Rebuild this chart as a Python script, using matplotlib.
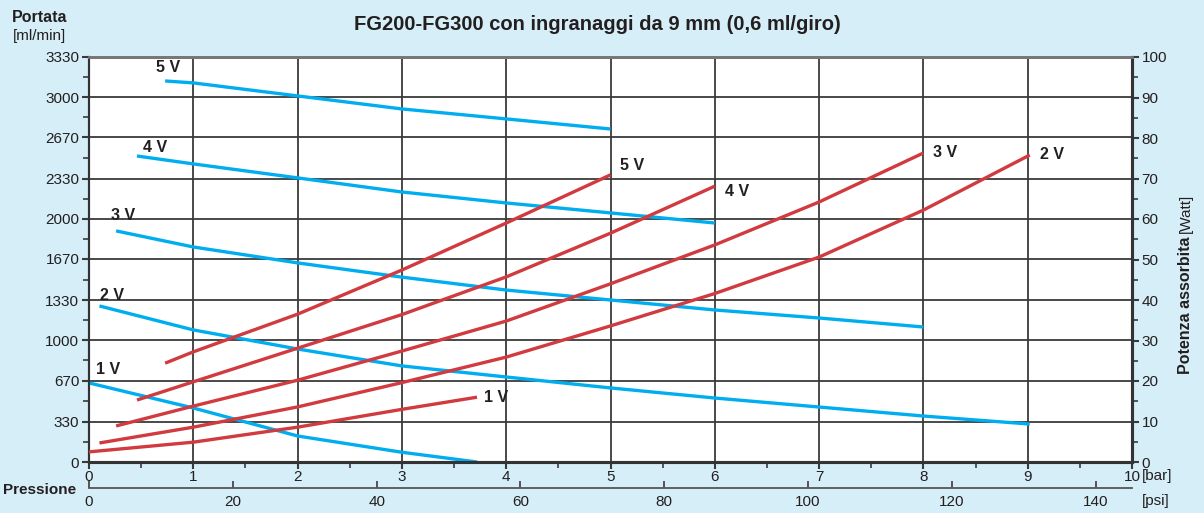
import matplotlib
matplotlib.use("Agg")
import matplotlib.pyplot as plt
from matplotlib.ticker import MultipleLocator, FixedLocator

# ---- data ----
flow_ticks = [0, 330, 670, 1000, 1330, 1670, 2000, 2330, 2670, 3000, 3330]
power_ticks = [0, 10, 20, 30, 40, 50, 60, 70, 80, 90, 100]
bar_ticks = [0, 1, 2, 3, 4, 5, 6, 7, 8, 9, 10]
psi_ticks = [0, 20, 40, 60, 80, 100, 120, 140]

# flow [ml/min] vs pressure [bar]
flow_p_5v = [0.73, 1, 2, 3, 4, 5]
flow_q_5v = [3133, 3117, 3010, 2903, 2821, 2738]
flow_p_4v = [0.46, 1, 2, 3, 4, 5, 6]
flow_q_4v = [2516, 2451, 2336, 2220, 2130, 2048, 1965]
flow_p_3v = [0.26, 1, 2, 3, 4, 5, 6, 7, 8]
flow_q_3v = [1900, 1768, 1637, 1520, 1414, 1332, 1250, 1184, 1110]
flow_p_2v = [0.1, 1, 2, 3, 4, 5, 6, 7, 8, 9.02]
flow_q_2v = [1283, 1086, 929, 790, 699, 609, 526, 452, 378, 312]
flow_p_1v = [0, 1, 2, 3, 3.72]
flow_q_1v = [650, 444, 214, 80, 0]

# absorbed power [W] vs pressure [bar]
pow_p_5v = [0.73, 1, 2, 3, 4, 5]
pow_w_5v = [24.4, 27.2, 36.5, 47.4, 59.0, 70.9]
pow_p_4v = [0.46, 1, 2, 3, 4, 5, 6]
pow_w_4v = [15.3, 19.8, 28.1, 36.4, 45.7, 56.5, 68.1]
pow_p_3v = [0.26, 1, 2, 3, 4, 5, 6, 7, 8]
pow_w_3v = [8.9, 13.8, 20.2, 27.4, 34.8, 44.0, 53.6, 64.2, 76.3]
pow_p_2v = [0.1, 1, 2, 3, 4, 5, 6, 7, 8, 9.02]
pow_w_2v = [4.7, 8.6, 13.6, 19.6, 25.9, 33.6, 41.6, 50.6, 62.2, 75.8]
pow_p_1v = [0, 1, 2, 3, 3.72]
pow_w_1v = [2.5, 4.9, 8.6, 13.0, 16.0]

flow_series = [("5 V", flow_p_5v, flow_q_5v), ("4 V", flow_p_4v, flow_q_4v),
               ("3 V", flow_p_3v, flow_q_3v), ("2 V", flow_p_2v, flow_q_2v),
               ("1 V", flow_p_1v, flow_q_1v)]
power_series = [("5 V", pow_p_5v, pow_w_5v), ("4 V", pow_p_4v, pow_w_4v),
                ("3 V", pow_p_3v, pow_w_3v), ("2 V", pow_p_2v, pow_w_2v),
                ("1 V", pow_p_1v, pow_w_1v)]

# ---- styling ----
BG = "#d6eef7"
BLUE = "#00aeef"
RED = "#d13a3e"
TXT = "#231f20"
COND = ["Liberation Sans Narrow", "Liberation Sans", "DejaVu Sans"]
REG = ["Liberation Sans", "DejaVu Sans"]

W, H = 1204, 513
fig = plt.figure(figsize=(W / 100, H / 100), dpi=100, facecolor=BG)
ax = fig.add_axes([89 / W, 1 - 462 / H, (1132 - 89) / W, (462 - 57) / H])
ax.set_facecolor("white")
ax2 = ax.twinx()

ax.set_xlim(0, 10)
ax.set_ylim(0, 3330)
ax2.set_ylim(0, 100)

ax.set_xticks(bar_ticks)
ax.xaxis.set_minor_locator(MultipleLocator(0.5))
ax.set_yticks(flow_ticks)
ax.yaxis.set_minor_locator(FixedLocator([(a + b) / 2 for a, b in zip(flow_ticks[:-1], flow_ticks[1:])]))
ax2.set_yticks(power_ticks)
ax2.yaxis.set_minor_locator(MultipleLocator(5))

ax.grid(True, which="major", color="#3a3a3a", linewidth=1.3)
ax.set_axisbelow(True)

for a in (ax, ax2):
    a.tick_params(which="both", colors="#3a3a3a", labelcolor=TXT, labelsize=11)
    a.tick_params(which="major", length=5, width=1.5, pad=2)
    a.tick_params(which="minor", length=4, width=1.2)
    for lab in a.get_xticklabels() + a.get_yticklabels():
        lab.set_family(REG)
ax.tick_params(axis="y", which="both", left=True, right=False)
ax2.tick_params(axis="y", which="both", right=True, left=False)
ax.tick_params(axis="x", which="major", pad=1)

for a in (ax, ax2):
    a.spines["bottom"].set_color("#333333")
    a.spines["bottom"].set_linewidth(2.2)
    a.spines["left"].set_color("#333333")
    a.spines["left"].set_linewidth(1.5)
    a.spines["right"].set_color("#333333")
    a.spines["right"].set_linewidth(2.2)
    a.spines["top"].set_color("#777777")
    a.spines["top"].set_linewidth(2.0)

# flow curves (left axis)
for label, p, q in flow_series:
    ax.plot(p, q, color=BLUE, lw=2.4, solid_capstyle="butt", solid_joinstyle="round", zorder=3)

# power curves (right axis)
for label, p, w in power_series:
    ax2.plot(p, w, color=RED, lw=2.4, solid_capstyle="butt", solid_joinstyle="round", zorder=3)

# curve labels
flow_lab_pos = {"5 V": (0.76, 3245), "4 V": (0.63, 2590), "3 V": (0.33, 2023),
                "2 V": (0.22, 1373), "1 V": (0.18, 757)}
for label, p, q in flow_series:
    x, y = flow_lab_pos[label]
    ax.text(x, y, label, ha="center", va="center", fontsize=11.5, fontweight="bold",
            family=COND, color=TXT, zorder=4)
pow_lab_pos = {"5 V": (5.09, 73.3), "4 V": (6.1, 66.7), "3 V": (8.09, 76.3),
               "2 V": (9.12, 76.0), "1 V": (3.79, 16.0)}
for label, p, w in power_series:
    x, y = pow_lab_pos[label]
    ax2.text(x, y, label, ha="left", va="center", fontsize=11.5, fontweight="bold",
             family=COND, color=TXT, zorder=4)

# psi axis
bar_to_psi = 14.5038
sec = ax.secondary_xaxis(-0.064, functions=(lambda b: b * bar_to_psi, lambda s: s / bar_to_psi))
sec.set_xticks(psi_ticks)
sec.tick_params(direction="in", length=5, width=1.2, colors="#3a3a3a", labelcolor=TXT,
                labelsize=11, pad=5)
for lab in sec.get_xticklabels():
    lab.set_family(REG)
sec.spines["bottom"].set_color("#555555")
sec.spines["bottom"].set_linewidth(1.3)

# texts
def ftext(x, y, s, **kw):
    fig.text(x / W, 1 - y / H, s, color=TXT, **kw)

ftext(597, 25, "FG200-FG300 con ingranaggi da 9 mm (0,6 ml/giro)", ha="center", va="center",
      fontsize=14.5, fontweight="bold", family=COND)
ftext(40, 17, "Portata", ha="center", va="center", fontsize=11.5, fontweight="bold", family=COND)
ftext(40, 36, "[ml/min]", ha="center", va="center", fontsize=11, family=REG)
ftext(40, 490, "Pressione", ha="center", va="center", fontsize=11, fontweight="bold", family=COND)
ftext(1142, 476, "[bar]", ha="left", va="center", fontsize=11, family=REG)
ftext(1142, 501, "[psi]", ha="left", va="center", fontsize=11, family=REG)
ftext(1186, 237, "Potenza assorbita", ha="center", va="top", rotation=90, fontsize=11.5,
      fontweight="bold", family=COND)
ftext(1186, 233, "[Watt]", ha="center", va="bottom", rotation=90, fontsize=11, family=REG)

fig.savefig("out.png", dpi=100, facecolor=BG)
